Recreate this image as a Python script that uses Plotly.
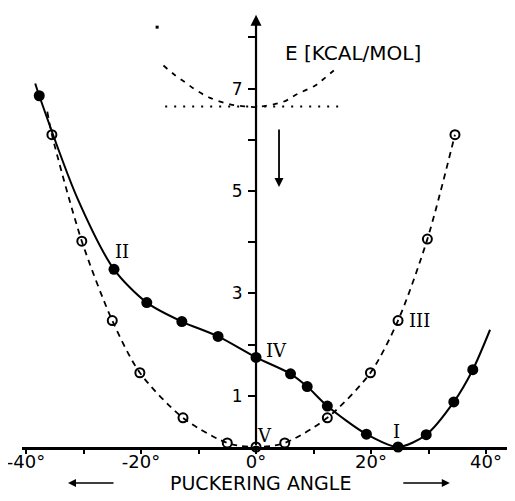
import plotly.graph_objects as go

# Solid curve (filled circles)
solid_x = [-37.7, -24.7, -19.0, -12.9, -6.6, 0.0, 6.0, 8.9, 12.4, 19.2, 24.7, 29.6, 34.4, 37.7]
solid_y = [6.86, 3.47, 2.82, 2.45, 2.16, 1.75, 1.43, 1.18, 0.80, 0.25, 0.0, 0.24, 0.88, 1.51]
solid_start = (-38.4, 7.1)
solid_mid = (-31.0, 4.84)
solid_end = (40.7, 2.29)

# Dashed curve (open circles)
open_x = [-35.5, -30.3, -25.0, -20.2, -12.7, -5.0, 0.0, 5.0, 12.4, 19.9, 24.7, 29.8, 34.6]
open_y = [6.10, 4.02, 2.47, 1.45, 0.57, 0.08, 0.0, 0.08, 0.57, 1.45, 2.47, 4.06, 6.10]
open_start = (-36.3, 6.55)

# Upper dashed curve and dotted level
upper_x = [-16.1, -14.4, -12.3, -10.3, -8.0, -4.5, -1.6, 0.0, 4.7, 7.3, 10.3, 12.1, 14.1]
upper_y = [7.45, 7.29, 7.12, 6.96, 6.82, 6.69, 6.65, 6.64, 6.74, 6.90, 7.06, 7.22, 7.41]
stray_dot = (-17.2, 8.2)
level_y = 6.65
level_x = [-15.8, 14.6]

x_ticks = [-40, -30, -20, -10, 0, 10, 20, 30, 40]
x_ticktext = ["-40°", "", "-20°", "", "0°", "", "20°", "", "40°"]
y_ticks = [1, 2, 3, 4, 5, 6, 7, 8]
y_ticktext = ["1", "", "3", "", "5", "", "7", ""]

labels = [("I", 24.5, 0.31), ("II", -23.3, 3.82), ("III", 28.5, 2.47),
          ("IV", 3.6, 1.88), ("V", 1.5, 0.22)]

fig = go.Figure()

# solid line
line_x = [solid_start[0], solid_x[0], solid_mid[0]] + solid_x[1:] + [solid_end[0]]
line_y = [solid_start[1], solid_y[0], solid_mid[1]] + solid_y[1:] + [solid_end[1]]
fig.add_trace(go.Scatter(
    x=line_x, y=line_y,
    mode="lines", line=dict(color="black", width=2, shape="spline", smoothing=0.8),
    cliponaxis=False, hoverinfo="skip", showlegend=False))
fig.add_trace(go.Scatter(
    x=solid_x, y=solid_y, mode="markers",
    marker=dict(symbol="circle", size=11, color="black"),
    cliponaxis=False, showlegend=False))

# dashed line with open circles
fig.add_trace(go.Scatter(
    x=[open_start[0]] + open_x, y=[open_start[1]] + open_y,
    mode="lines", line=dict(color="black", width=1.8, dash="6px,5px", shape="spline", smoothing=0.8),
    cliponaxis=False, hoverinfo="skip", showlegend=False))
fig.add_trace(go.Scatter(
    x=open_x, y=open_y, mode="markers",
    marker=dict(symbol="circle-open", size=9, color="black", line=dict(width=2)),
    cliponaxis=False, showlegend=False))

# upper dashed curve
fig.add_trace(go.Scatter(
    x=upper_x, y=upper_y, mode="lines",
    line=dict(color="black", width=1.8, dash="5px,6px", shape="spline"),
    hoverinfo="skip", showlegend=False))
fig.add_trace(go.Scatter(
    x=[stray_dot[0]], y=[stray_dot[1]], mode="markers",
    marker=dict(symbol="square", size=3, color="black"), showlegend=False))

# dotted level line
fig.add_trace(go.Scatter(
    x=level_x, y=[level_y, level_y], mode="lines",
    line=dict(color="black", width=2, dash="2px,7px"),
    hoverinfo="skip", showlegend=False))

annotations = []
# y axis as an arrow
annotations.append(dict(x=0, y=8.44, ax=0, ay=0, xref="x", yref="y", axref="x", ayref="y",
                        text="", showarrow=True, arrowhead=2, arrowsize=1, arrowwidth=2.2,
                        arrowcolor="black"))
# downward arrow
annotations.append(dict(x=4.0, y=5.08, ax=4.0, ay=6.23, xref="x", yref="y", axref="x", ayref="y",
                        text="", showarrow=True, arrowhead=2, arrowsize=1, arrowwidth=1.8,
                        arrowcolor="black"))
annotations.append(dict(x=16.9, y=7.7, xref="x", yref="y", text="E [KCAL/MOL]",
                        showarrow=False, font=dict(family="DejaVu Sans", size=20, color="black")))
for t, lx, ly in labels:
    annotations.append(dict(x=lx, y=ly, xref="x", yref="y", text=t, showarrow=False,
                            font=dict(family="DejaVu Serif", size=18, color="black")))
annotations.append(dict(x=0.7, y=-0.082, xref="x", yref="paper", yanchor="middle",
                        text="PUCKERING ANGLE",
                        showarrow=False, font=dict(family="DejaVu Sans", size=19, color="black")))
annotations.append(dict(x=-32.7, y=-0.082, xref="x", yref="paper", ax=47, ay=0, text="",
                        showarrow=True, arrowhead=2, arrowwidth=1.6, arrowcolor="black"))
annotations.append(dict(x=33.7, y=-0.082, xref="x", yref="paper", ax=-48, ay=0, text="",
                        showarrow=True, arrowhead=2, arrowwidth=1.6, arrowcolor="black"))

x_lo, x_hi = -40.7, 45.04
fig.update_layout(
    width=507, height=493,
    margin=dict(l=14, r=0, t=0, b=54, autoexpand=False),
    paper_bgcolor="white", plot_bgcolor="white",
    annotations=annotations,
    xaxis=dict(range=[x_lo, x_hi], showline=True, linecolor="black", linewidth=2.5,
               automargin=False, ticklabeloverflow="allow",
               showgrid=False, zeroline=False, tickvals=x_ticks, ticktext=x_ticktext,
               ticks="outside", ticklen=4, tickwidth=1.5, tickcolor="black",
               ticklabelstandoff=-7,
               tickfont=dict(family="DejaVu Sans", size=18, color="black")),
    yaxis=dict(range=[0, 8.574], anchor="free", position=(0 - x_lo) / (x_hi - x_lo),
               showline=False, automargin=False, ticklabeloverflow="allow",
               showgrid=False, zeroline=False, tickvals=y_ticks, ticktext=y_ticktext,
               ticks="outside", ticklen=8, tickwidth=1.5, tickcolor="black", ticklabelstandoff=2,
               tickfont=dict(family="DejaVu Sans", size=17, color="black")),
)

fig.write_html("out.html")
